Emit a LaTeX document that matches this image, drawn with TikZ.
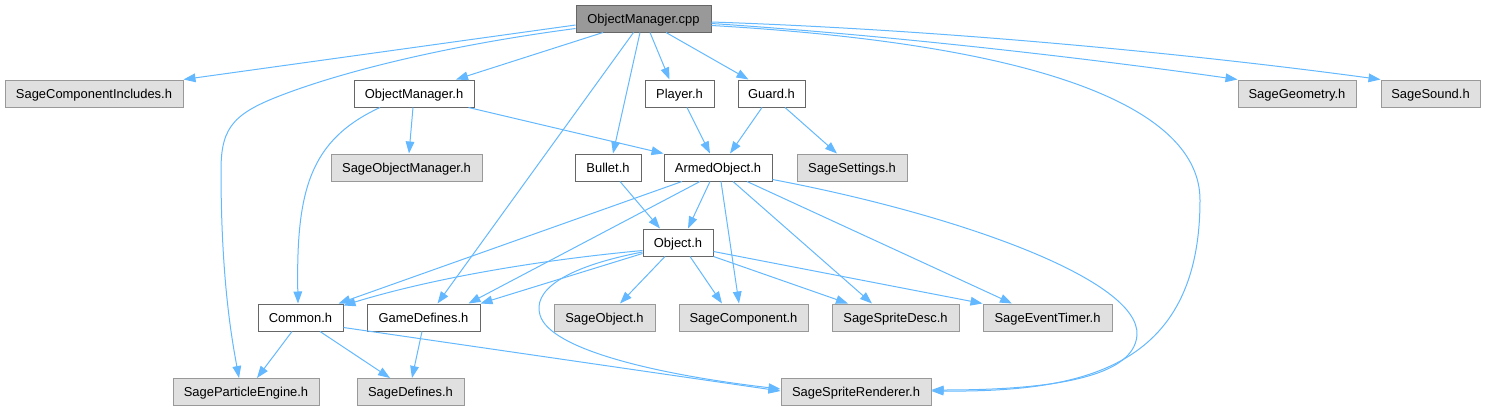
\documentclass[tikz,border=0pt]{standalone}
\usepackage{fontspec}
\setmainfont{Liberation Sans}
\usetikzlibrary{
    arrows.meta,
    calc
}
\definecolor{edgeblue}{RGB}{99,184,255}
\definecolor{rootfill}{HTML}{999999}
\definecolor{boxline}{HTML}{666666}
\definecolor{extfill}{HTML}{E0E0E0}
\definecolor{extline}{HTML}{999999}
\tikzset{
    % --- Header file of the project (white box) ---
    file/.style = {
        rectangle, draw=boxline, fill=white, line width=0.75pt,
        minimum height=27*0.75pt, inner sep=0pt,
        text height=8pt, text depth=0.8pt,
        font=\fontsize{9.7}{11}\selectfont
    },
    % --- The file the graph is drawn for ---
    root file/.style = {
        file, fill=rootfill
    },
    % --- Header outside the project (grey box) ---
    ext file/.style = {
        file, draw=extline, fill=extfill
    },
    % --- Box width in pixels of the graph ---
    wd/.style = {
        minimum width=#1*0.75pt
    },
    % --- Include arrow ---
    incl/.style = {
        -{Triangle[length=9pt,width=6.5pt]},
        draw=edgeblue, line width=0.75pt
    }
}

\begin{document}
\begin{tikzpicture}[x=0.75pt, y=-0.75pt]

\useasboundingbox (0,0) rectangle (1486,411);

% ---------------------------------------------------------
% Row 0: the source file
% ---------------------------------------------------------
\node[root file, wd=135] (OmCpp) at (643.5,18.5) {ObjectManager.cpp};

% ---------------------------------------------------------
% Row 1
% ---------------------------------------------------------
\node[ext file, wd=178] (SageCompInc) at (94,93.5)   {SageComponentIncludes.h};
\node[file, wd=120]     (OmH)         at (414,93.5)  {ObjectManager.h};
\node[file, wd=69]      (PlayerH)     at (679.5,93.5) {Player.h};
\node[file, wd=67]      (GuardH)      at (771.5,93.5) {Guard.h};
\node[ext file, wd=118] (SageGeom)    at (1297,93.5) {SageGeometry.h};
\node[ext file, wd=99]  (SageSound)   at (1430.5,93.5) {SageSound.h};

% ---------------------------------------------------------
% Row 2
% ---------------------------------------------------------
\node[ext file, wd=151] (SageObjMgr)  at (406.5,167.5) {SageObjectManager.h};
\node[file, wd=66]      (BulletH)     at (608,167.5) {Bullet.h};
\node[file, wd=108]     (ArmedH)      at (718,167.5) {ArmedObject.h};
\node[ext file, wd=110] (SageSet)     at (852,167.5) {SageSettings.h};

% ---------------------------------------------------------
% Row 3
% ---------------------------------------------------------
\node[file, wd=70] (ObjectH) at (678,242.5) {Object.h};

% ---------------------------------------------------------
% Row 4
% ---------------------------------------------------------
\node[file, wd=85]      (CommonH)   at (300.5,317.5)  {Common.h};
\node[file, wd=113]     (GameDefH)  at (423.5,317.5)  {GameDefines.h};
\node[ext file, wd=101] (SageObj)   at (604.5,317.5)  {SageObject.h};
\node[ext file, wd=129] (SageComp)  at (743.5,317.5)  {SageComponent.h};
\node[ext file, wd=127] (SageDesc)  at (895.5,317.5)  {SageSpriteDesc.h};
\node[ext file, wd=129] (SageTimer) at (1047.5,317.5) {SageEventTimer.h};

% ---------------------------------------------------------
% Row 5
% ---------------------------------------------------------
\node[ext file, wd=146] (SagePart) at (246,392)   {SageParticleEngine.h};
\node[ext file, wd=107] (SageDef)  at (410.5,392) {SageDefines.h};
\node[ext file, wd=150] (SageRend) at (856,392)   {SageSpriteRenderer.h};

% ---------------------------------------------------------
% Includes of ObjectManager.cpp
% ---------------------------------------------------------
\draw[incl] ($(OmCpp.west)+(0,6.5)$) -- (SageCompInc.north east);
\draw[incl] ($(OmCpp.west)+(0,10)$)
    .. controls (450,45) and (350,70) .. (290,92)
    .. controls (235,112) and (221,125) .. (221,170)
    .. controls (221,280) and (232,340) .. ($(SagePart.north)+(-7,0)$);
\draw[incl] ($(OmCpp.south)+(-40.5,0)$) -- ($(OmH.north)+(42,0)$);
\draw[incl] ($(OmCpp.south)+(-10,0)$) -- ($(GameDefH.north)+(14,0)$);
\draw[incl] ($(OmCpp.south)+(-3.5,0)$) -- ($(BulletH.north)+(5,0)$);
\draw[incl] ($(OmCpp.south)+(6.5,0)$) -- ($(PlayerH.north)+(-10,0)$);
\draw[incl] ($(OmCpp.south)+(22.5,0)$) -- ($(GuardH.north)+(-23,0)$);
\draw[incl] ($(OmCpp.east)+(0,5)$)
    .. controls (900,36) and (1100,60) .. (SageGeom.north west);
\draw[incl] ($(OmCpp.east)+(0,3.5)$)
    .. controls (950,30) and (1200,55) .. (SageSound.north west);
\draw[incl] ($(OmCpp.east)+(0,7)$)
    .. controls (1050,45) and (1200,110) .. (1200,200)
    .. controls (1200,370) and (1080,392) .. ($(SageRend.east)+(0,-1)$);

% ---------------------------------------------------------
% Includes of ObjectManager.h, Player.h, Guard.h, Bullet.h
% ---------------------------------------------------------
\draw[incl] ($(OmH.south)+(-1,0)$) -- ($(SageObjMgr.north)+(2.5,0)$);
\draw[incl] ($(OmH.south)+(-34,0)$)
    .. controls (310,140) and (296,190) .. ($(CommonH.north)+(-2.5,0)$);
\draw[incl] ($(OmH.south east)+(-6,0)$) -- (ArmedH.north west);
\draw[incl] ($(PlayerH.south)+(7.5,0)$) -- ($(ArmedH.north)+(-8,0)$);
\draw[incl] ($(GuardH.south)+(-9.5,0)$) -- ($(ArmedH.north)+(12,0)$);
\draw[incl] ($(GuardH.south)+(13.5,0)$) -- ($(SageSet.north)+(-15,0)$);
\draw[incl] ($(BulletH.south)+(12,0)$) -- ($(ObjectH.north)+(-18,0)$);

% ---------------------------------------------------------
% Includes of ArmedObject.h
% ---------------------------------------------------------
\draw[incl] ($(ArmedH.south)+(-8,0)$) -- ($(ObjectH.north)+(10,0)$);
\draw[incl] ($(ArmedH.south)+(-36,0)$) -- ($(CommonH.north east)+(-5,0)$);
\draw[incl] ($(ArmedH.south)+(-18,0)$) -- ($(GameDefH.north)+(45,0)$);
\draw[incl] ($(ArmedH.south)+(3,0)$) -- ($(SageComp.north)+(-4.5,0)$);
\draw[incl] ($(ArmedH.south)+(15,0)$) -- ($(SageDesc.north)+(-23.5,0)$);
\draw[incl] ($(ArmedH.south)+(29,0)$) -- ($(SageTimer.north)+(-35.5,0)$);
\draw[incl] ($(ArmedH.south east)+(0,-2)$)
    .. controls (960,215) and (1140,280) .. (1137,335)
    .. controls (1134,380) and (1040,390) .. ($(SageRend.east)+(0,-2)$);

% ---------------------------------------------------------
% Includes of Object.h
% ---------------------------------------------------------
\draw[incl] ($(ObjectH.west)+(0,8)$)
    .. controls (520,262) and (420,282) .. ($(CommonH.north east)+(0,2)$);
\draw[incl] ($(ObjectH.west)+(0,11)$) -- (GameDefH.north east);
\draw[incl] ($(ObjectH.south)+(-13,0)$) -- ($(SageObj.north)+(15.5,0)$);
\draw[incl] ($(ObjectH.south)+(12,0)$) -- ($(SageComp.north)+(-21.5,0)$);
\draw[incl] (ObjectH.south east) -- ($(SageDesc.north)+(-47.5,0)$);
\draw[incl] ($(ObjectH.east)+(0,9)$) -- (SageTimer.north west);
\draw[incl] ($(ObjectH.west)+(0,9.5)$)
    .. controls (560,268) and (533,292) .. (540,315)
    .. controls (550,350) and (660,375) .. ($(SageRend.west)+(0,-3)$);

% ---------------------------------------------------------
% Includes of Common.h and GameDefines.h
% ---------------------------------------------------------
\draw[incl] ($(CommonH.south)+(-8.5,0)$) -- ($(SagePart.north)+(11,0)$);
\draw[incl] ($(CommonH.south)+(19.5,0)$) -- ($(SageDef.north)+(-20.5,0)$);
\draw[incl] ($(CommonH.east)+(0,10)$) -- ($(SageRend.west)+(0,-1)$);
\draw[incl] ($(GameDefH.south)+(-1.5,0)$) -- ($(SageDef.north)+(1.5,0)$);

\end{tikzpicture}
\end{document}
